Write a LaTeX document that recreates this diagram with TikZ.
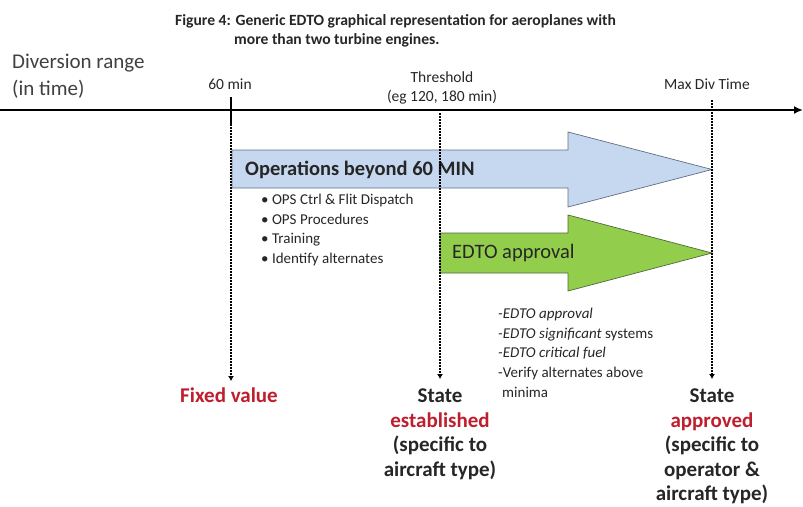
\documentclass[tikz,border=0pt]{standalone}
\usepackage{fontspec}
\setmainfont{Carlito}
\usetikzlibrary{positioning,arrows.meta}

\definecolor{opsblue}{RGB}{198,216,240}
\definecolor{opsline}{RGB}{95,110,130}
\definecolor{edtogreen}{RGB}{146,206,76}
\definecolor{edtoline}{RGB}{80,105,60}
\definecolor{statered}{RGB}{190,30,45}
\definecolor{inkgray}{RGB}{64,64,64}

\begin{document}
\begin{tikzpicture}[
    x=1pt, y=-1pt,
    every node/.style={inner sep=0pt, text=black!85},
    title/.style={font=\fontsize{15.6}{18}\selectfont\bfseries, anchor=west},
    ticklabel/.style={font=\fontsize{15.5}{19}\selectfont, align=center},
    timeline/.style={-{Latex[length=9pt,width=8pt]}, line width=2.4pt},
    guide/.style={dash pattern=on 1.6pt off 1.4pt, line width=2pt, -{Latex[length=5pt,width=6pt]}},
    block/.style={line width=0.7pt},
    blocktext/.style={font=\fontsize{20.5}{24}\selectfont, anchor=west},
    notes/.style={font=\fontsize{15}{19.6}\selectfont, align=left, anchor=north west},
    outcome/.style={font=\fontsize{21}{24.5}\selectfont\bfseries, align=center, anchor=north},
    hot/.style={text=statered}
]
    \useasboundingbox (0,0) rectangle (803,506);

    % Caption
    \node[title] (title1) at (175,21) {Figure 4: Generic EDTO graphical representation for aeroplanes with};
    \node[title] (title2) at (234,40) {more than two turbine engines.};

    % Time axis
    \node[font=\fontsize{21}{27}\selectfont, text=inkgray, align=left, anchor=north west] (range) at (12,54) {Diversion range\\(in time)};
    \coordinate (axisL) at (0,110);
    \coordinate (axisR) at (803,110);
    \draw[timeline] (axisL) -- (axisR);

    \node[ticklabel] (sixty) at (230,84) {60 min};
    \node[ticklabel] (thresh) at (442,88) {Threshold\\(eg 120, 180 min)};
    \node[ticklabel] (maxdiv) at (707,84) {Max Div Time};

    % Block arrows
    \draw[block, draw=opsline, fill=opsblue] (232,150) -- (568,150) -- (568,132) -- (712,169.5)
        -- (568,207) -- (568,188) -- (232,188) -- cycle;
    \draw[block, draw=edtoline, fill=edtogreen] (440,233) -- (568,233) -- (568,215) -- (712,253)
        -- (568,291) -- (568,273) -- (440,273) -- cycle;

    \node[blocktext, font=\fontsize{20.5}{24}\selectfont\bfseries] (opstext) at (245,170) {Operations beyond 60 MIN};
    \node[blocktext] (edtotext) at (452,253) {EDTO approval};

    \node[notes] (opsnotes) at (261,194) {%
        • OPS Ctrl \& Flit Dispatch\\
        • OPS Procedures\\
        • Training\\
        • Identify alternates};
    \node[notes] (edtonotes) at (498,308) {%
        {\itshape -EDTO approval}\\
        {\itshape -EDTO significant} systems\\
        {\itshape -EDTO critical fuel}\\
        -Verify alternates above\\
        \hspace{4pt}minima};

    % Outcomes
    \node[outcome, hot] (fixed) at (229,388) {Fixed value};
    \node[outcome] (established) at (440,389) {State\\\textcolor{statered}{established}\\(specific to\\aircraft type)};
    \node[outcome] (approved) at (712,389) {State\\\textcolor{statered}{approved}\\(specific to\\operator \&\\aircraft type)};

    % Guide lines
    \coordinate (t60top) at (231,97);
    \coordinate (t60) at (231,124);
    \coordinate (tthr) at (440,113);
    \coordinate (tmax) at (712,100);
    \draw[line width=1.8pt] (t60top) -- (t60);
    \draw[guide, shorten >=7pt] (t60) -- (fixed.north -| t60);
    \draw[guide, shorten >=10pt] (tthr) -- (established.north);
    \draw[guide, shorten >=10pt] (tmax) -- (approved.north);
\end{tikzpicture}
\end{document}
